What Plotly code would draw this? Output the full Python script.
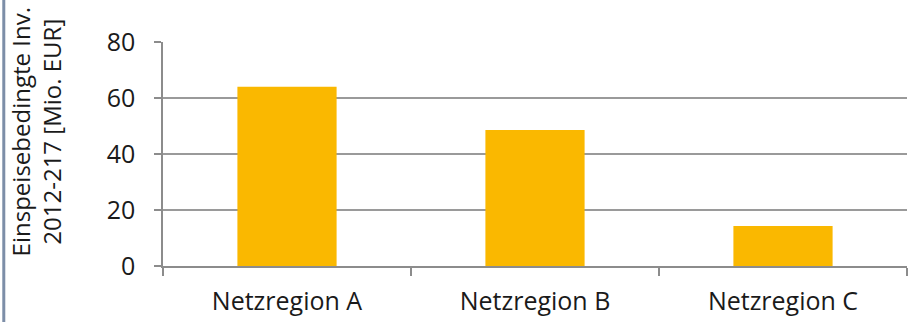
import plotly.graph_objects as go

categories = ["Netzregion A", "Netzregion B", "Netzregion C"]
values = [64, 48.6, 14.3]
y_ticks = [0, 20, 40, 60, 80]
y_title = "Einspeisebedingte Inv.<br>2012-217 [Mio. EUR]"

FONT = "Open Sans"
FS = 25
fig = go.Figure()
fig.add_trace(go.Bar(x=categories, y=values, marker=dict(color="#FAB800", line=dict(width=0))))

fig.update_layout(
    width=912, height=322,
    margin=dict(l=163, r=5, t=42, b=56),
    paper_bgcolor="white", plot_bgcolor="white",
    bargap=0.6,
    showlegend=False,
    font=dict(family=FONT, size=FS, color="#1a1a1a"),
    xaxis=dict(
        showline=True, linecolor="#8c8c8c", linewidth=1.5,
        ticks="outside", tickson="boundaries", ticklen=8, tickcolor="#8c8c8c", tickwidth=1.5,
        showgrid=False, tickfont=dict(size=FS, family=FONT), ticklabelstandoff=12,
    ),
    yaxis=dict(
        range=[0, 80], tickvals=y_ticks,
        showline=True, linecolor="#8c8c8c", linewidth=1.5,
        ticks="outside", ticklen=7, tickcolor="#8c8c8c", tickwidth=1.5,
        showgrid=True, gridcolor="#9a9a9a", gridwidth=1.5,
        zeroline=False, tickfont=dict(size=FS, family=FONT), ticklabelstandoff=14,
    ),
    annotations=[dict(
        text=y_title, textangle=-90, xref="paper", yref="paper",
        x=-0.171, y=0.6, xanchor="center", yanchor="middle",
        showarrow=False, font=dict(size=24, family=FONT, color="#1a1a1a"),
    )],
    shapes=[dict(type="line", xref="paper", yref="paper",
                 x0=-0.214, x1=-0.214, y0=-0.3, y1=1.3,
                 line=dict(color="#7d8ea8", width=3))],
)

fig.write_html("out.html")
